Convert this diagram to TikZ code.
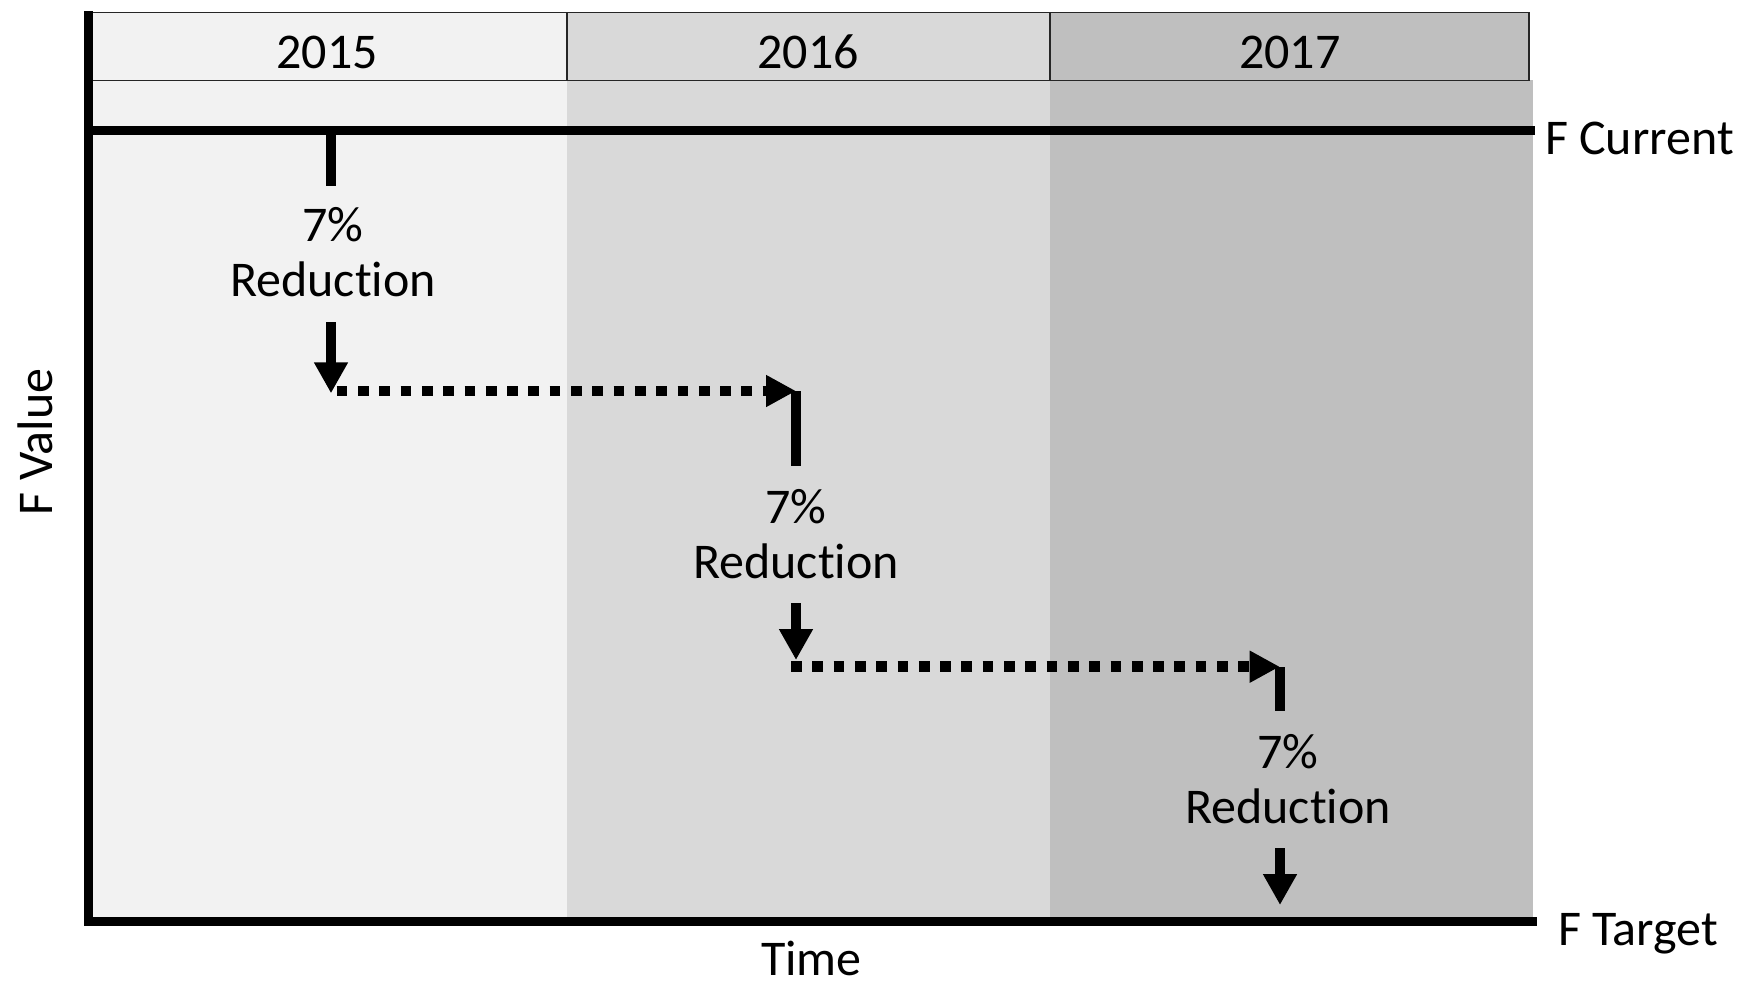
\documentclass[tikz,border=0pt]{standalone}
\usepackage{fontspec}
\setmainfont{Carlito}[Ligatures={NoCommon,NoContextual}]
\usetikzlibrary{arrows.meta}
\definecolor{colA}{HTML}{F2F2F2}
\definecolor{colB}{HTML}{D9D9D9}
\definecolor{colC}{HTML}{BFBFBF}
\begin{document}
\begin{tikzpicture}[x=1pt,y=-1pt,
  lbl/.style={font=\fontsize{50pt}{55pt}\selectfont, inner sep=0pt, outer sep=0pt},
  redlbl/.style={lbl, align=center, anchor=base},
  yearbox/.style={draw=black!85, line width=1.8pt, minimum height=68pt, inner sep=0pt, outer sep=0pt},
  yeartext/.style={lbl, anchor=base},
  bar/.style={line width=10pt},
  axisline/.style={line width=8.7pt},
  downarrow/.style={line width=10pt, -{Triangle[width=32pt,length=31pt]}},
  dotarrow/.style={line width=10.5pt, dash pattern=on 10.7pt off 10.6pt, -{Triangle[width=30pt,length=30pt]}}
]
\useasboundingbox (0,0) rectangle (1760,985);
% column backgrounds
\fill[colA] (88,80) rectangle (566.7,917);
\fill[colB] (566.7,80) rectangle (1050,917);
\fill[colC] (1050,80) rectangle (1532.7,917);
% header boxes
\node[yearbox, fill=colA, minimum width=478.7pt] (b2015) at (327.35,46.5) {};
\node[yearbox, fill=colB, minimum width=483.3pt] (b2016) at (808.35,46.5) {};
\node[yearbox, fill=colC, minimum width=479.3pt] (b2017) at (1289.65,46.5) {};
\node[yeartext] (t2015) at (327.3,68.3) {2015};
\node[yeartext] (t2016) at (808.3,68.3) {2016};
\node[yeartext] (t2017) at (1289.7,68.3) {2017};
% axes
\coordinate (axTop) at (88.3,11);
\coordinate (axCorner) at (88.3,921.5);
\coordinate (tgtEnd) at (1536.7,921.5);
\draw[axisline] (axTop) -- (axCorner) -- (tgtEnd);
\coordinate (curStart) at (84,130.5);
\coordinate (curEnd) at (1535,130.5);
\draw[line width=9pt] (curStart) -- (curEnd);
\node[lbl, anchor=base west] (fcur) at (1545,154) {F Current};
\node[lbl, anchor=base west] (ftgt) at (1558,945) {F Target};
\node[lbl, anchor=base, rotate=90] (fval) at (52,442) {F Value};
\node[lbl, anchor=base] (time) at (811.5,975) {Time};
% step 1
\coordinate (s1a) at (331,135);
\coordinate (s1b) at (331,185.7);
\draw[bar] (s1a) -- (s1b);
\node[redlbl] (r1) at (333,296.7) {7\%\\Reduction};
\coordinate (d1a) at (331,322);
\coordinate (d1b) at (331,393.3);
\draw[downarrow] (d1a) -- (d1b);
\coordinate (h1a) at (336.7,391);
\coordinate (h1b) at (796,391);
\draw[dotarrow] (h1a) -- (h1b);
% step 2
\coordinate (s2a) at (796,391);
\coordinate (s2b) at (796,466);
\draw[bar] (s2a) -- (s2b);
\node[redlbl] (r2) at (796,578.5) {7\%\\Reduction};
\coordinate (d2a) at (796,603.3);
\coordinate (d2b) at (796,660);
\draw[downarrow] (d2a) -- (d2b);
\coordinate (h2a) at (791,666.7);
\coordinate (h2b) at (1279.7,666.7);
\draw[dotarrow] (h2a) -- (h2b);
% step 3
\coordinate (s3a) at (1279.7,667);
\coordinate (s3b) at (1279.7,711);
\draw[bar] (s3a) -- (s3b);
\node[redlbl] (r3) at (1288,823) {7\%\\Reduction};
\coordinate (d3a) at (1280,848.3);
\coordinate (d3b) at (1280,905);
\draw[downarrow] (d3a) -- (d3b);
\end{tikzpicture}
\end{document}
